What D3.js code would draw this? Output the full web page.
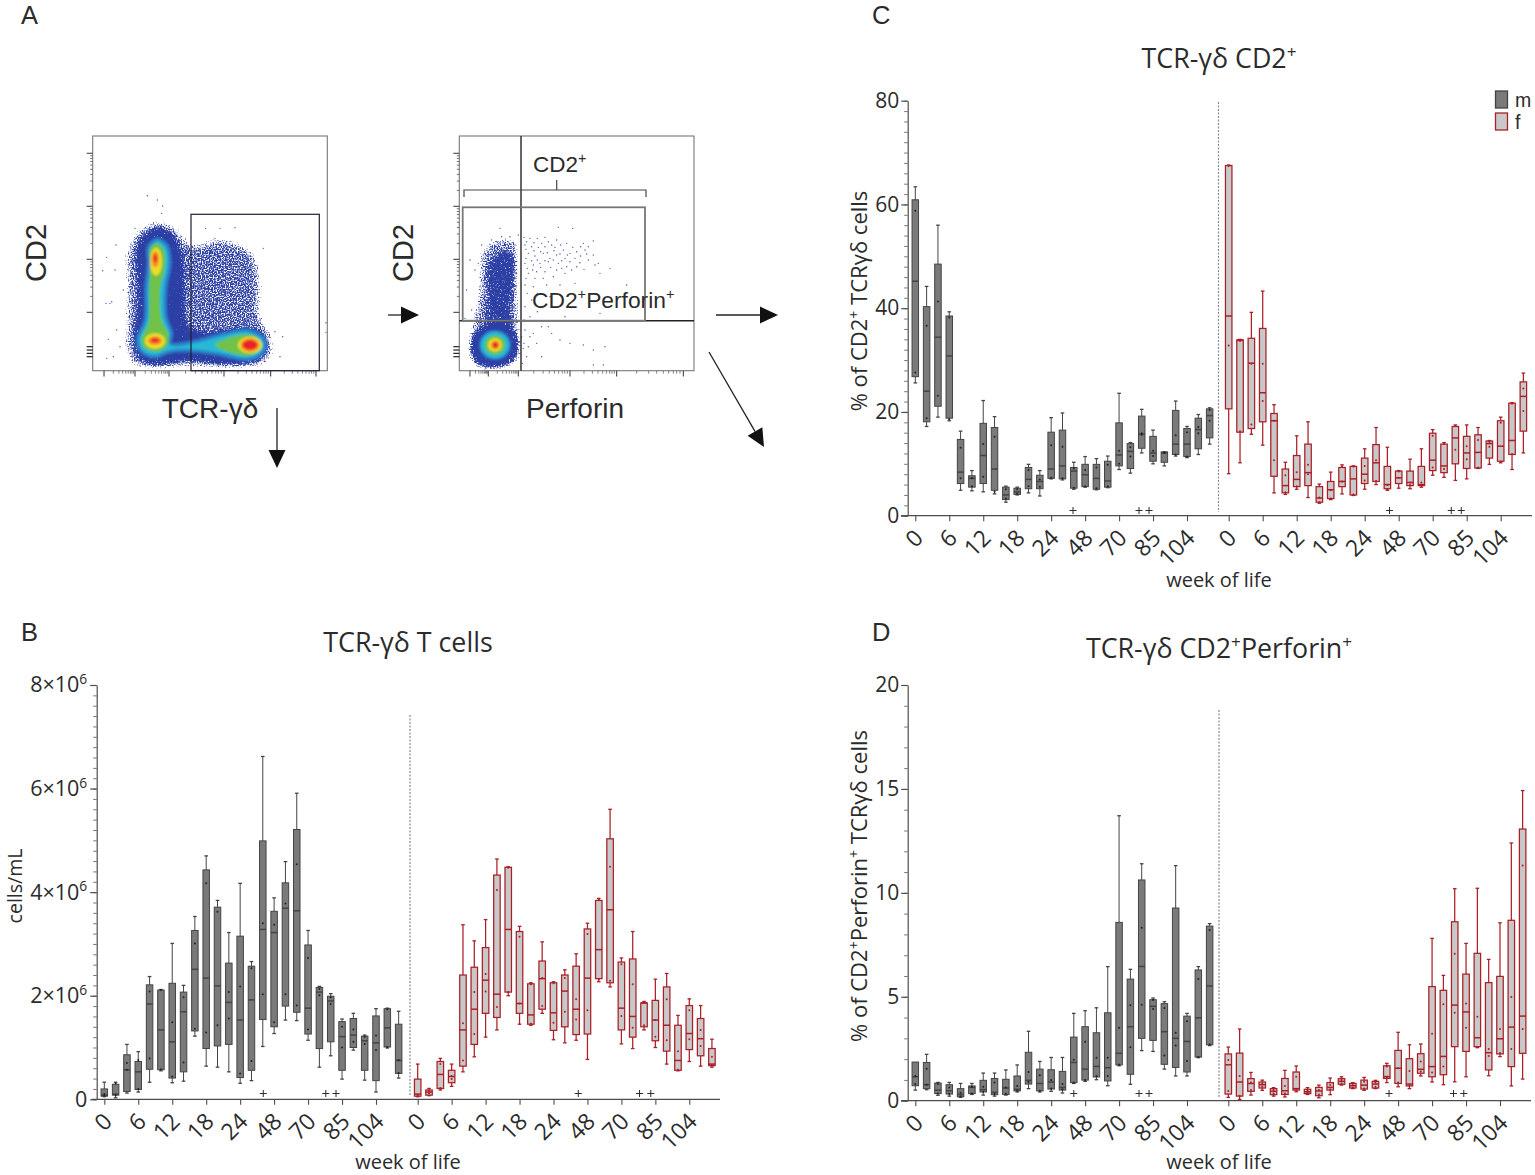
<!DOCTYPE html>
<html><head><meta charset="utf-8">
<script src="https://cdn.jsdelivr.net/npm/d3@7"></script>
<style>
html,body{margin:0;padding:0;background:#fff}
svg{display:block}
text{font-family:"Open Sans",sans-serif;fill:#2b2b2b}
.flow text,.flowlabel,.alt{font-family:"Liberation Sans",Arial,sans-serif}
</style></head><body>
<svg id="fig" width="1535" height="1175" viewBox="0 0 1535 1175"></svg>
<script>
// ---------- data: each box is [whiskerLow, q1, median, q3, whiskerHigh, dotA, dotB]
const weekLabels = ["0","6","12","18","24","48","70","85","104"];

const cMale = [[25.6,26.8,45.2,60.9,63.4,58.8,27.6],[17.2,18.1,24,40.3,44.2,36.6,18.8],[19,21.1,34.4,48.5,56,41.3,23.1],[18.3,18.8,30.8,38.5,39.3,38.2,18.6],[4.9,6.2,8.4,14.7,16.3,13.1,7.2],[4.8,5.5,7.2,7.7,8.7,7.2,5.7],[4.6,6.2,11.6,17.8,22.2,13.8,7.5],[4.2,4.9,9,17,19.1,15.2,4.6],[2.6,3.1,4,5.5,5.7,5.1,3.3],[4,4.1,4.6,5.3,5.5,5.1,4.3],[4.4,5.2,7,9.3,9.9,8.8,5.7],[3.8,5.2,6.6,7.8,8.7,7,5.6],[7.1,7.2,9,16.1,18.9,13.6,7.3],[6.9,7.1,9.6,16.5,19.8,13.3,7.2],[5.1,5.3,8.6,9.3,10.3,9.1,5.4],[5.5,5.6,7.9,9.9,11.4,8.8,5.7],[5,5.1,7.2,9.9,11,9.3,5.3],[5.4,5.5,6.7,10.5,11.5,9.8,5.7],[8.9,9.6,11.7,17.9,23.6,12.5,10],[8.2,9.1,12.4,13.9,14.1,13.2,11.4],[12.1,13,15.7,19.2,20.5,15.9,15.6],[10,10.5,12.1,15.3,16.5,12.5,11.5],[9.6,10.3,12.1,12.3,12.3,12.2,12.1],[11.5,11.8,13.8,20.3,22.1,15.5,11.8],[11.2,11.4,13.8,16.8,17.2,16.1,11.4],[11.8,12.9,16.6,18.8,19.5,17.1,15.9],[13.8,15,19.3,20.6,20.8,20.4,18.3]];
const cFemale = [[8.1,20.6,38.5,67.5,67.6,32.8,67.4],[10.2,16.1,33.8,33.9,34,33.7,16.3],[15.7,16.8,29.4,34.2,39.2,17.6,29.3],[13.6,18.1,23.7,36.1,43.3,29.3,22.1],[4.4,7.6,18.3,19.7,21.4,10.7,18.3],[4.1,4.4,5.8,9,10.3,7.8,4.5],[5.1,5.6,7,11.6,15.4,8.4,5.7],[3.5,5.8,8.3,13.8,18.1,9.8,8],[2.4,2.6,3.4,5.6,6.1,3.5,2.6],[3.1,3.3,5,6.6,8.4,4.9,3.3],[4.2,5.6,6.6,9.3,9.8,6.6,9.4],[3.9,4,7.1,9.5,9.6,9.5,4.1],[5.1,6.2,8,11.1,12.9,9.6,6.8],[6,6.6,10.2,13.7,17,10.7,6.7],[4.9,5.2,6,9.5,13.2,5.9,5.1],[5.3,6.2,7.3,8.6,8.7,8.5,7.3],[5.2,5.8,6.4,8.6,10.9,6.4,5.9],[5.5,5.8,6,9.5,12.9,6.4,5.9],[7.8,8.7,10.7,15.9,16.6,15.4,9.3],[7.4,8.3,9.6,13.8,14.1,13.8,9],[6.8,10,15,17.2,17.5,12.7,17.3],[7.1,9.1,12.1,15.3,17.5,13.4,10.9],[9.1,9.2,12.2,15.6,17,14.6,9.3],[9.9,11.1,13.9,14.4,14.5,14.2,13.3],[10.2,10.5,13.4,18.3,19,17.9,10.4],[8.9,11.8,14.5,21.7,21.8,21.6,11.9],[12.1,16.3,23,25.8,27.5,24.5,20.2]];

const bMale = [[.05,.06,.08,.2,.33,.1,.07],[.03,.08,.1,.29,.33,.31,.08],[.12,.15,.57,.86,1.06,.7,.57],[.14,.19,.53,.73,.92,.76,.2],[.33,.58,1.84,2.21,2.37,2.08,.79],[.55,.57,1.34,2.11,2.12,2.11,.58],[.32,.41,1.11,2.24,3.01,1.49,.44],[.35,.53,1.69,2.07,2.2,1.97,.71],[1.22,1.32,2.51,3.26,3.53,3.01,1.36],[.64,.98,2.34,4.43,4.7,4.17,1.29],[.62,1.03,2.19,3.71,3.84,3.62,1.43],[.53,1.06,1.87,2.63,3.22,2.07,1.56],[.31,.42,1.53,3.15,4.17,2.18,.5],[.36,.56,1.92,2.57,2.66,2.53,.74],[1.02,1.54,3.28,4.99,6.62,3.4,2.03],[1.27,1.4,3.22,3.63,3.89,3.37,1.49],[1.53,1.8,3.69,4.18,4.59,3.78,2.03],[1.52,1.68,3.64,5.21,5.91,4.54,1.81],[1.14,1.26,1.76,2.98,3.26,2.73,1.35],[.62,.98,2.07,2.16,2.18,2.13,2.01],[.84,1.11,1.9,1.99,2.04,1.97,1.84],[.39,.56,1.21,1.5,1.55,1.4,1],[.95,1,1.24,1.56,1.66,1.35,1.11],[.37,.56,1.13,1.22,1.24,1.21,1.07],[.14,.36,1.09,1.61,1.75,1.23,.95],[.99,1.01,1.38,1.75,1.76,1.74,1.01],[.41,.5,.75,1.45,1.7,.76,.51]];
const bFemale = [[.05,.06,.1,.39,.68,.09,.07],[.07,.08,.14,.18,.21,.16,.11],[.18,.21,.48,.73,.79,.68,.22],[.25,.32,.44,.56,.68,.45,.39],[.53,.64,1.34,2.4,3.37,1.47,.75],[.82,1.06,1.74,2.55,3.06,2.07,1.26],[1.2,1.66,2.3,2.93,3.47,2.42,2.08],[1.34,1.58,2.03,4.33,4.64,4.04,1.78],[2,2.07,3.28,4.48,4.49,4.47,2.07],[1.45,1.66,1.85,3.24,3.34,3.14,1.85],[1.43,1.45,1.63,2.23,2.25,2.22,1.46],[1.66,1.74,2.33,2.67,3.04,2.34,1.8],[1.15,1.33,1.67,2.25,2.27,2.24,1.48],[1.09,1.4,2.09,2.4,2.5,2.34,1.69],[1.14,1.25,1.74,2.57,2.81,1.93,1.54],[.77,1.26,2.34,3.29,3.4,3.19,1.72],[2.27,2.33,2.89,3.84,3.88,3.86,2.32],[2.17,2.25,3.66,5.03,5.6,4.49,2.29],[1.07,1.34,1.76,2.65,2.73,2.61,1.61],[.98,1.2,1.6,2.71,3.24,2.22,1.38],[1.34,1.4,1.86,1.86,1.89,1.87,1.43],[1,1.13,1.53,1.91,2.32,1.53,1.21],[.68,.93,1.43,2.17,2.43,1.93,1.14],[.55,.56,.75,1.43,1.62,.93,.57],[.73,.96,1.27,1.81,1.94,1.72,1.16],[.64,.84,1.17,1.56,1.81,1.34,1.03],[.62,.65,.68,.98,1.16,.82,.66]];

const dMale = [[.51,.72,1.15,1.86,1.62,1.19,.8],[.53,.58,.77,1.84,2.23,1.54,.77],[.26,.34,.51,.85,.88,.8,.35],[.22,.32,.48,.77,.88,.64,.34],[.16,.19,.3,.58,.83,.38,.22],[.3,.34,.64,.71,.83,.67,.35],[.27,.42,.53,.98,1.33,.67,.43],[.22,.29,.4,1.07,1.33,.88,.32],[.27,.3,.61,1.03,1.48,.64,.34],[.42,.47,.55,1.19,1.72,.71,.48],[.58,.8,.98,2.33,3.34,1.38,.9],[.42,.47,.83,1.52,1.89,1.22,.48],[.45,.56,.9,1.49,2.08,.99,.59],[.37,.51,.64,1.41,2.08,.8,.55],[.83,.87,1.84,3.06,4.2,1.97,.88],[.93,.99,1.52,3.56,4.33,2.84,1],[1.01,1.14,1.65,3.27,4.47,2.07,1.19],[.72,.95,1.59,4.23,6.45,2.07,1.19],[1.68,1.72,2.28,8.58,13.71,3.51,1.74],[.79,1.27,3.56,5.85,6.32,4.59,2.57],[2.41,3,6.46,10.62,11.4,8.32,4.62],[2.37,2.9,4.54,4.86,4.94,4.84,4.41],[1.52,1.75,3.32,4.67,4.76,4.46,2.17],[1.19,1.6,3,9.27,11.31,3.27,2.65],[1.19,1.38,2.85,4.07,4.2,3.82,1.91],[2.07,2.1,3.99,6.29,6.45,5.85,2.1],[2.65,2.69,5.52,8.4,8.52,8.21,2.71]];
const dFemale = [[.16,.32,1.73,2.25,2.58,1.96,.47],[.06,.22,.9,2.29,3.45,1.19,.24],[.27,.45,.83,1.06,1.36,.87,.51],[.5,.61,.77,.9,.99,.83,.67],[.22,.29,.45,.58,.63,.51,.35],[.18,.3,.48,1.07,1.46,.71,.35],[.43,.51,.58,1.38,1.67,1.15,.55],[.3,.34,.43,.55,.63,.48,.38],[.14,.24,.47,.64,.75,.51,.3],[.29,.51,.64,.87,1.09,.75,.55],[.75,.79,.93,1.06,1.15,.99,.83],[.58,.61,.72,.83,.87,.75,.64],[.5,.56,.75,.99,1.12,.91,.59],[.58,.61,.8,.93,.98,.87,.67],[.87,1.07,1.16,1.68,1.8,1.64,1.11],[.67,.83,1.56,2.42,3.29,1.56,.87],[.58,.71,.8,2.02,2.69,1.43,.74],[1.19,1.32,1.51,2.26,2.73,1.88,1.4],[.9,1.15,1.64,5.49,7.81,3.22,1.36],[.77,1.25,2.13,5.31,6.03,4.64,1.65],[.91,2.6,4.6,8.61,10.2,7.07,4.23],[1.15,2.37,4.27,6.09,7.57,4.68,3.51],[2.55,2.6,3.03,7.09,10.22,4.04,2.58],[1.2,1.48,2.31,5.68,6.8,2.49,2.15],[2.12,2.25,2.98,5.98,8.56,3.45,2.29],[.71,1.64,3.54,8.68,12.4,4.99,2.49],[1.04,2.28,4.07,13.07,14.92,11.31,3.45]];

// "+" markers, in box slots
const cPlusMale=[13.93,19.76,20.64], cPlusFemale=[14.2,19.65,20.53];
const bPlusMale=[14.05,19.56,20.47], bPlusFemale=[14.2,19.6,20.6];
const dPlusMale=[14,19.76,20.64], dPlusFemale=[14.2,19.9,20.8];

// Flow cytometry gate read-outs, in the channel units of each plot frame
const flowChannelX1=[38,742], flowChannelX2=[28,732], flowChannelY=[722,18];
const flow1Sparse=[[335,335],[410,315],[470,328],[530,362],[552,450],[552,555],[580,600],[592,645],[582,692],[535,720],[440,724],[330,720],[230,726],[155,716],[125,650],[128,570],[128,460],[128,370],[160,296],[205,270],[240,262],[290,280],[318,310]];
const flow1Dense=[[235,282],[272,295],[298,325],[318,385],[322,470],[326,570],[350,596],[430,592],[515,584],[556,606],[570,645],[556,686],[510,708],[430,712],[330,702],[230,714],[178,700],[152,650],[160,570],[165,460],[158,375],[182,312]];
const flow1Cyan=[[232,328],[260,345],[270,400],[258,470],[258,560],[275,610],[272,640],[340,635],[430,612],[500,600],[548,622],[556,650],[540,676],[500,688],[410,672],[330,662],[270,665],[225,680],[185,665],[172,630],[195,570],[198,470],[205,400],[205,350]];
const flow1Green=[[230,340],[252,360],[255,410],[240,480],[245,570],[265,610],[262,645],[230,665],[190,650],[185,625],[205,580],[208,480],[210,400],[210,355]];
const flow1GreenRight=[[405,645],[480,615],[528,620],[545,645],[525,672],[480,675]];
// hot spots: [centre x, centre y, radius x, radius y, band]
const flow1Spots=[[228,395,18,42,"yellow"],[226,388,11,24,"orange"],[226,385,5,12,"red"],[225,633,31,23,"yellow"],[225,632,21,13,"orange"],[225,631,12,6,"red"],[510,645,36,25,"yellow"],[510,645,28,20,"orange"],[510,645,22,14,"red"]];
const flow1Strays=[[202,197],[232,210],[248,228],[245,250],[165,295],[108,345],[80,382],[68,422],[105,420],[130,480],[95,515],[90,520],[78,520],[110,600],[85,628],[80,685],[100,680],[120,650],[377,295],[420,295],[465,293],[405,325],[550,355],[585,605],[608,620],[600,680],[738,578],[738,607]];
const flow2Sparse=[[148,318],[205,325],[213,450],[216,572],[216,692],[172,722],[75,720],[48,670],[58,570],[78,470],[80,385],[100,340]];
const flow2Dense=[[122,372],[150,352],[196,362],[206,450],[196,530],[194,610],[106,610],[100,480],[98,410]];
const flow2Blob=[[135,570],[190,585],[212,640],[200,690],[150,716],[85,712],[55,670],[70,600]];
const flow2Spots=[[135,645,48,45,"lightblue"],[135,645,42,39,"cyan"],[135,645,31,29,"green"],[135,645,21,20,"yellow"],[136,645,13,13,"orange"],[136,645,8,8,"red"]];
const flow2Strays=[[222,322],[240,325],[262,325],[285,322],[325,292],[368,295],[320,330],[350,340],[400,340],[430,333],[225,345],[245,350],[265,352],[285,350],[305,345],[340,360],[360,370],[380,365],[405,360],[430,375],[235,370],[255,378],[280,370],[300,385],[320,375],[345,385],[375,385],[415,390],[445,400],[225,400],[250,405],[270,400],[295,395],[325,400],[350,410],[380,410],[435,405],[480,415],[235,430],[260,425],[285,425],[320,420],[345,430],[450,430],[225,465],[250,470],[290,465],[330,465],[375,460],[245,510],[300,500],[530,465],[225,530],[345,560],[450,550],[275,590],[295,590],[225,600],[240,620],[305,610],[330,630],[400,645],[465,650],[430,660],[360,640],[430,705],[460,705],[275,680],[220,655],[235,650],[150,295],[125,330],[95,345],[60,390],[50,480],[75,420],[155,320],[180,320],[205,315],[195,345],[165,345],[140,335],[100,375],[85,400],[45,565],[65,540],[90,470],
 [230,335],[252,338],[275,340],[295,335],[315,352],[332,345],[368,352],[392,350],[415,350],[228,358],[252,362],[272,365],[292,368],[312,362],[330,372],[352,375],[392,378],[410,372],[228,385],[245,392],[262,390],[285,392],[310,390],[335,392],[360,395],[390,398],[232,415],[248,420],[272,412],[302,412],[335,415],[365,420],[402,418],[228,445],[255,445],[280,445],[310,440],[232,490],[262,490],[222,570],[240,560],[262,545],[222,640],[230,680],[218,700],[215,620],[250,610],[260,640]];
const flow1XMajor=[72,165,267,432,572,708], flow2XMajor=[60,115,205,360,500,700];
const flowYDecades=[547,307,70];

// ---------- styles
const bandColour={cyan:"#25b9d6",green:"#6fc24a",yellow:"#efdc2c",orange:"#f58c1f",red:"#e8232b",blue:"#2c3fa4",lightblue:"#2b7fc9"};
const maleStyle={fill:"#7a7a7a",stroke:"#444444",dot:"#222",sw:1};
const femaleStyle={fill:"#c8c8c8",stroke:"#ab1f27",dot:"#ab1f27",sw:1.25};

const svg=d3.select("#fig");
const defs=svg.append("defs");
function densityFilter(id,seed,blur,threshold,slope){
  const f=defs.append("filter").attr("id",id).attr("x","-25%").attr("y","-25%").attr("width","150%").attr("height","150%").attr("color-interpolation-filters","sRGB");
  f.append("feTurbulence").attr("type","fractalNoise").attr("baseFrequency",.75).attr("numOctaves",1).attr("seed",seed).attr("result","n");
  f.append("feColorMatrix").attr("in","n").attr("type","matrix").attr("values","0 0 0 0 0 0 0 0 0 0 0 0 0 0 0 1 0 0 0 0").attr("result","na");
  f.append("feGaussianBlur").attr("in","SourceAlpha").attr("stdDeviation",blur).attr("result","ba");
  f.append("feComposite").attr("in","na").attr("in2","ba").attr("operator","arithmetic").attr("k1",0).attr("k2",.55).attr("k3",.55).attr("k4",0).attr("result","sum");
  const ct=f.append("feComponentTransfer").attr("in","sum").attr("result","mask");
  ct.append("feFuncA").attr("type","linear").attr("slope",slope).attr("intercept",-slope*threshold);
  f.append("feFlood").attr("flood-color",bandColour.blue).attr("result","c");
  f.append("feComposite").attr("in","c").attr("in2","mask").attr("operator","in");
}
densityFilter("sparse1",4,6,.74,9);
densityFilter("dense1",7,5,.62,9);
densityFilter("sparse2",11,5,.76,9);
densityFilter("dense2",13,4,.68,9);
densityFilter("blob2",17,4,.6,9);
const soft=defs.append("filter").attr("id","soft");
soft.append("feGaussianBlur").attr("stdDeviation",.9);

// ---------- helpers
function supText(sel,parts,base){
  sel.text(null);
  let prevSup=false;
  parts.forEach(([s,isSup])=>{
    const t=sel.append("tspan").text(s);
    const dy=isSup===prevSup?0:(isSup?-.38:.38)*base;
    if(dy) t.attr("dy",dy);
    if(isSup) t.attr("font-size",base*.64);
    prevSup=isSup;
  });
}

function drawBoxes(g,data,x,y,width,style){
  const box=g.append("g").selectAll("g").data(data).join("g");
  box.append("line").attr("x1",(d,i)=>x(i)).attr("x2",(d,i)=>x(i))
    .attr("y1",d=>y(d[0])).attr("y2",d=>y(d[4])).attr("stroke",style.stroke).attr("stroke-width",style.sw);
  [0,4].forEach(k=>box.append("line").attr("x1",(d,i)=>x(i)-1.8).attr("x2",(d,i)=>x(i)+1.8)
    .attr("y1",d=>y(d[k])).attr("y2",d=>y(d[k])).attr("stroke",style.stroke).attr("stroke-width",1.3));
  box.append("rect").attr("x",(d,i)=>x(i)-width/2).attr("width",width)
    .attr("y",d=>y(d[3])).attr("height",d=>Math.max(1,y(d[1])-y(d[3])))
    .attr("fill",style.fill).attr("stroke",style.stroke).attr("stroke-width",style.sw);
  box.append("line").attr("x1",(d,i)=>x(i)-width/2).attr("x2",(d,i)=>x(i)+width/2)
    .attr("y1",d=>y(d[2])).attr("y2",d=>y(d[2])).attr("stroke",style.stroke).attr("stroke-width",1.5);
  [5,6].forEach(k=>box.append("circle").attr("cx",(d,i)=>x(i)).attr("cy",d=>y(d[k])).attr("r",1)
    .attr("fill",style.dot));
}

function drawPanel(o){
  const g=svg.append("g");
  const y=d3.scaleLinear().domain(o.yDomain).range([o.y0,o.yTop]);
  const xm=d3.scaleLinear().domain([0,24]).range(o.maleRange);
  const xf=d3.scaleLinear().domain([0,24]).range(o.femaleRange);
  const slots=d3.range(0,25,3);

  const yAxisMinor=d3.axisLeft(y).tickValues(d3.range(o.yDomain[0],o.yDomain[1]+1e-9,o.yMinor)).tickSize(3.5).tickFormat("");
  const gm=g.append("g").attr("transform",`translate(${o.yAxisX},0)`).call(yAxisMinor);
  gm.selectAll(".domain").remove();
  gm.selectAll("line").attr("stroke","#666").attr("stroke-width",.9);
  const yAxis=d3.axisLeft(y).tickValues(d3.range(o.yDomain[0],o.yDomain[1]+1e-9,o.yMajor)).tickSize(6.5).tickSizeOuter(0).tickPadding(o.yPad);
  const ga=g.append("g").attr("transform",`translate(${o.yAxisX},0)`).call(yAxis);
  ga.selectAll("line,.domain").attr("stroke","#4d4d4d").attr("stroke-width",1.2);
  ga.selectAll("text").attr("font-family",null).attr("font-size",o.yFont).attr("fill","#2b2b2b").style("font-family",'"Open Sans",sans-serif')
    .each(function(d){ o.yFormat?supText(d3.select(this),o.yFormat(d),o.yFont):0; });

  g.append("line").attr("x1",o.baseStart).attr("x2",o.baseEnd).attr("y1",o.y0).attr("y2",o.y0).attr("stroke","#4d4d4d").attr("stroke-width",1.3);

  [xm,xf].forEach(x=>{
    const ax=d3.axisBottom(x).tickValues(slots).tickSize(5.5).tickSizeOuter(0).tickFormat((d,i)=>weekLabels[i]);
    const a=g.append("g").attr("transform",`translate(0,${o.y0})`).call(ax);
    a.select(".domain").remove();
    a.selectAll("line").attr("stroke","#4d4d4d").attr("stroke-width",1.1);
    a.selectAll("text").style("font-family",'"Open Sans",sans-serif').attr("font-size",23).attr("fill","#2b2b2b")
      .attr("text-anchor","end").attr("dy","0.35em").attr("y",0).attr("x",0)
      .attr("transform",d=>`translate(${3},${18}) rotate(-45)`);
  });

  g.append("line").attr("x1",o.divX).attr("x2",o.divX).attr("y1",o.divTop).attr("y2",o.divBottom)
    .attr("stroke","#8a8a8a").attr("stroke-width",1.2).attr("stroke-dasharray","2 1.5");

  drawBoxes(g,o.male,xm,y,6.5,maleStyle);
  drawBoxes(g,o.female,xf,y,6.5,femaleStyle);

  [[o.plusMale,xm],[o.plusFemale,xf]].forEach(([p,x])=>{
    g.append("g").attr("opacity",.99).selectAll("text").data(p).join("text").attr("x",d=>x(d)).attr("y",o.plusY)
      .attr("text-anchor","middle").attr("font-size",15).attr("fill","#222").text("+");
  });

  const tt=g.append("text").attr("x",o.titleX).attr("y",o.titleY).attr("text-anchor","middle").attr("font-size",26.8);
  supText(tt,o.title,26.8);
  g.append("text").attr("x",o.xLabelX).attr("y",o.xLabelY).attr("text-anchor","middle").attr("font-size",20).text("week of life");
  const yt=g.append("text").attr("transform",`translate(${o.yLabelX},${o.yLabelY}) rotate(-90)`).attr("text-anchor","middle").attr("font-size",o.yLabelFont);
  supText(yt,o.yLabel,o.yLabelFont);
}

const fmtB=d=> d===0?[["0",false]]:[[`${d}×10`,false],["6",true]];

drawPanel({male:cMale,female:cFemale,plusMale:cPlusMale,plusFemale:cPlusFemale,
  yDomain:[0,80],yMajor:20,yMinor:2,y0:515.7,yTop:100.7,yAxisX:907.7,yPad:2,yFont:21,
  maleRange:[915.3,1187],femaleRange:[1228.7,1500.7],baseStart:901,baseEnd:1532,
  divX:1218.5,divTop:102,divBottom:512,plusY:516,
  title:[["TCR-γδ CD2",false],["+",true]],titleX:1219,titleY:68,
  xLabelX:1219,xLabelY:587,yLabelX:867,yLabelY:301,yLabelFont:22,
  yLabel:[["% of CD2",false],["+",true],[" TCRγδ cells",false]]});

drawPanel({male:bMale,female:bFemale,plusMale:bPlusMale,plusFemale:bPlusFemale,
  yDomain:[0,8],yMajor:2,yMinor:.2,y0:1099.3,yTop:685,yAxisX:96.7,yPad:3,yFont:21.5,yFormat:fmtB,
  maleRange:[104.3,376],femaleRange:[417.7,689.3],baseStart:91.5,baseEnd:720,
  divX:410,divTop:715,divBottom:1095,plusY:1099,
  title:[["TCR-γδ T cells",false]],titleX:408,titleY:652,
  xLabelX:408,xLabelY:1169,yLabelX:21.5,yLabelY:886,yLabelFont:19.5,
  yLabel:[["cells/mL",false]]});

drawPanel({male:dMale,female:dFemale,plusMale:dPlusMale,plusFemale:dPlusFemale,
  yDomain:[0,20],yMajor:5,yMinor:1,y0:1100.7,yTop:685,yAxisX:907.7,yPad:2,yFont:21,
  maleRange:[915.3,1187],femaleRange:[1228.3,1500],baseStart:901,baseEnd:1531,
  divX:1219,divTop:710,divBottom:1097,plusY:1099,
  title:[["TCR-γδ CD2",false],["+",true],["Perforin",false],["+",true]],titleX:1219,titleY:658,
  xLabelX:1219,xLabelY:1169,yLabelX:867,yLabelY:886,yLabelFont:22,
  yLabel:[["% of CD2",false],["+",true],["Perforin",false],["+",true],[" TCRγδ cells",false]]});

// Legend
const leg=svg.append("g");
[["m",maleStyle,91],["f",femaleStyle,113]].forEach(([k,s,top])=>{
  leg.append("rect").attr("x",1495.5).attr("y",top).attr("width",12).attr("height",17).attr("fill",s.fill).attr("stroke",s.stroke).attr("stroke-width",1.3);
  leg.append("text").attr("class","alt").attr("x",1515).attr("y",top+16).attr("font-size",19.5).text(k);
});

// Panel letters
[["A",21,24],["B",21,641],["C",872,24],["D",872,641]].forEach(([t,x,y])=>
  svg.append("text").attr("class","alt").attr("x",x).attr("y",y).attr("font-size",25.5).text(t));

// ---------- Flow plots
const flow=svg.append("g").attr("class","flow");
const closed=(fx,fy)=>d3.line().curve(d3.curveCatmullRomClosed).x(d=>fx(d[0])).y(d=>fy(d[1]));

function flowFrame(left,right,chanX,xMajor){
  const fx=d3.scaleLinear().domain(chanX).range([left,right]);
  const fy=d3.scaleLinear().domain(flowChannelY).range([370.7,136]);
  const g=flow.append("g");
  return {g,fx,fy,left,right,xMajor};
}
function frameAxes(p){
  const {g,fx,fy,left,right,xMajor}=p;
  g.append("rect").attr("x",left).attr("y",136).attr("width",right-left).attr("height",234.7).attr("fill","none").attr("stroke","#777").attr("stroke-width",1.1);
  const logY=d3.scaleLog().domain([100,100000]).range([flowYDecades[0],flowYDecades[2]]);
  const ys=[...logY.ticks()].filter(v=>v<=100000);
  const ticksY=g.append("g");
  ys.forEach(v=>{const maj=Math.abs(Math.log10(v)%1)<1e-6;
    ticksY.append("line").attr("x1",left-(maj?6:2.5)).attr("x2",left).attr("y1",fy(logY(v))).attr("y2",fy(logY(v))).attr("stroke","#555").attr("stroke-width",maj?1.2:.8);});
  d3.range(4).forEach(i=>ticksY.append("line").attr("x1",left-6).attr("x2",left).attr("y1",fy(650+i*10)).attr("y2",fy(650+i*10)).attr("stroke","#222").attr("stroke-width",1.2));
  const ticksX=g.append("g");
  xMajor.forEach((m,i)=>{
    ticksX.append("line").attr("x1",fx(m)).attr("x2",fx(m)).attr("y1",370.7).attr("y2",376.5).attr("stroke","#444").attr("stroke-width",1.1);
    if(i<xMajor.length-1){const next=xMajor[i+1];
      [.3,.48,.6,.7,.78,.85,.9,.95].forEach(f=>ticksX.append("line").attr("x1",fx(m+(next-m)*f)).attr("x2",fx(m+(next-m)*f)).attr("y1",370.7).attr("y2",373.7).attr("stroke","#666").attr("stroke-width",.8));}
  });
}
function spots(g,fx,fy,list){
  g.selectAll(null).data(list).join("ellipse").attr("cx",d=>fx(d[0])).attr("cy",d=>fy(d[1]))
    .attr("rx",d=>Math.abs(fx(d[2])-fx(0))).attr("ry",d=>Math.abs(fy(d[3])-fy(0)))
    .attr("fill",d=>bandColour[d[4]]);
}
function strays(g,fx,fy,list){
  g.selectAll(null).data(list).join("circle").attr("cx",d=>fx(d[0])).attr("cy",d=>fy(d[1])).attr("r",.7).attr("fill","#4556b8");
}

// Plot 1
const p1=flowFrame(92.7,327.3,flowChannelX1,flow1XMajor);
{
  const {g,fx,fy}=p1, L=closed(fx,fy);
  strays(g,fx,fy,flow1Strays);
  g.append("path").attr("d",L(flow1Sparse)).attr("fill","#000").attr("filter","url(#sparse1)");
  g.append("path").attr("d",L(flow1Dense)).attr("fill","#000").attr("filter","url(#dense1)");
  const s=g.append("g").attr("filter","url(#soft)");
  s.append("path").attr("d",L(flow1Cyan)).attr("fill",bandColour.cyan).attr("stroke",bandColour.lightblue).attr("stroke-width",3.5);
  s.append("path").attr("d",L(flow1Green)).attr("fill",bandColour.green);
  s.append("path").attr("d",L(flow1GreenRight)).attr("fill",bandColour.green);
  spots(s,fx,fy,flow1Spots);
  frameAxes(p1);
  g.append("rect").attr("x",191).attr("y",214.3).attr("width",128.3).attr("height",156.4).attr("fill","none").attr("stroke","#1f1f33").attr("stroke-width",1.2);
}
// Plot 2
const p2=flowFrame(459.3,694,flowChannelX2,flow2XMajor);
{
  const {g,fx,fy}=p2, L=closed(fx,fy);
  strays(g,fx,fy,flow2Strays);
  g.append("path").attr("d",L(flow2Sparse)).attr("fill","#000").attr("filter","url(#sparse2)");
  g.append("path").attr("d",L(flow2Dense)).attr("fill","#000").attr("filter","url(#dense2)");
  g.append("path").attr("d",L(flow2Blob)).attr("fill","#000").attr("filter","url(#blob2)");
  const s=g.append("g").attr("filter","url(#soft)");
  spots(s,fx,fy,flow2Spots);
  frameAxes(p2);
  g.append("line").attr("x1",521).attr("x2",521).attr("y1",136).attr("y2",370.7).attr("stroke","#333").attr("stroke-width",1.5);
  g.append("line").attr("x1",459.3).attr("x2",694).attr("y1",320.7).attr("y2",320.7).attr("stroke","#222").attr("stroke-width",1.4);
  g.append("rect").attr("x",462.7).attr("y",207.3).attr("width",182.3).attr("height",113.4).attr("fill","none").attr("stroke","#777").attr("stroke-width",1.8);
  g.append("path").attr("d","M464,197V190H646V197M556.7,190V180").attr("fill","none").attr("stroke","#444").attr("stroke-width",1.2);
  const t1=g.append("text").attr("class","flowlabel").attr("x",533).attr("y",172).attr("font-size",22.5);
  supText(t1,[["CD2",false],["+",true]],22.5);
  const t2=g.append("text").attr("class","flowlabel").attr("x",532).attr("y",308).attr("font-size",22.8);
  supText(t2,[["CD2",false],["+",true],["Perforin",false],["+",true]],22.8);
}
[["CD2",46,253],["CD2",413,253]].forEach(([t,x,y])=>
  flow.append("text").attr("transform",`translate(${x},${y}) rotate(-90)`).attr("text-anchor","middle").attr("font-size",29).attr("fill","#222").text(t));
[["TCR-γδ",210,418],["Perforin",575,418]].forEach(([t,x,y])=>
  flow.append("text").attr("x",x).attr("y",y).attr("text-anchor","middle").attr("font-size",28).attr("fill","#222").text(t));

// Arrows
const arrows=[[388,315,419,315],[716,315,778,315],[709,352,764,447],[277,408,277,468]];
arrows.forEach(([x1,y1,x2,y2])=>{
  const ang=Math.atan2(y2-y1,x2-x1), head=18, half=8.5;
  const bx=x2-head*Math.cos(ang), by=y2-head*Math.sin(ang);
  svg.append("line").attr("x1",x1).attr("y1",y1).attr("x2",bx).attr("y2",by).attr("stroke","#222").attr("stroke-width",1.3);
  svg.append("path").attr("d",`M${x2},${y2}L${bx-half*Math.sin(ang)},${by+half*Math.cos(ang)}L${bx+half*Math.sin(ang)},${by-half*Math.cos(ang)}Z`).attr("fill","#111");
});
</script>
</body></html>
